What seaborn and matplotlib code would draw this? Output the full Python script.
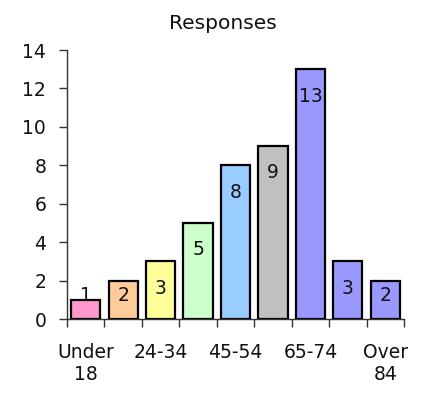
import matplotlib
matplotlib.use("Agg")
import matplotlib.pyplot as plt
import seaborn as sns
import pandas as pd
import numpy as np

# Survey responses by age group
age_groups = ["Under\n18", "18-24", "24-34", "35-44", "45-54", "55-64", "65-74", "75-84", "Over\n84"]
responses = [1, 2, 3, 5, 8, 9, 13, 3, 2]
bar_colors = ["#FF99CC", "#FFCC99", "#FFFF99", "#CCFFCC", "#99CCFF", "#C0C0C0", "#9999FF", "#9999FF", "#9999FF"]
shown_labels = ["Under\n18", "", "24-34", "", "45-54", "", "65-74", "", "Over\n84"]
y_ticks = [0, 2, 4, 6, 8, 10, 12, 14]

df = pd.DataFrame({"group": age_groups, "count": responses})

sns.set_style("white")
plt.rcParams["font.family"] = ["DejaVu Sans"]

fig = plt.figure(figsize=(4.48, 4.12), dpi=100)
ax = fig.add_axes([0.1496, 0.2257, 0.7522, 0.6529])

sns.barplot(data=df, x="group", y="count", hue="group", palette=bar_colors,
            order=age_groups, hue_order=age_groups, legend=False,
            width=0.78, edgecolor="black", linewidth=1.6, saturation=1, ax=ax)

ax.set_xlim(-0.5, len(age_groups) - 0.5)
ax.set_ylim(0, 14)
ax.set_yticks(y_ticks)
ax.set_yticklabels([str(t) for t in y_ticks])

# Category labels at bar centres, tick marks at category boundaries
ax.set_xticks(range(len(age_groups)))
ax.set_xticklabels(shown_labels, fontsize=13.5, color="#111111", linespacing=1.25)
ax.set_xticks(np.arange(-0.5, len(age_groups), 1.0), minor=True)
ax.tick_params(axis="x", which="major", bottom=True, length=0, pad=17)
ax.tick_params(axis="x", which="minor", bottom=True, length=5.5, width=1,
               color="#333333", direction="out")
ax.tick_params(axis="y", left=True, length=6, width=1, color="#333333", direction="out",
               labelsize=13.5, labelcolor="#111111", pad=9)
ax.set_xlabel("")
ax.set_ylabel("")

for side in ("top", "right"):
    ax.spines[side].set_visible(False)
for side in ("left", "bottom"):
    ax.spines[side].set_color("#333333")
    ax.spines[side].set_linewidth(1)

# Value labels inside the top of each bar
for i, v in enumerate(responses):
    ax.text(i, max(v - 1.4, 1.2), str(v), ha="center", va="center",
            fontsize=13.5, color="#111111")

fig.text(0.498, 0.943, "Responses", ha="center", va="center", fontsize=14.5, color="#111111")

fig.savefig("out.png", dpi=100, facecolor="white")
